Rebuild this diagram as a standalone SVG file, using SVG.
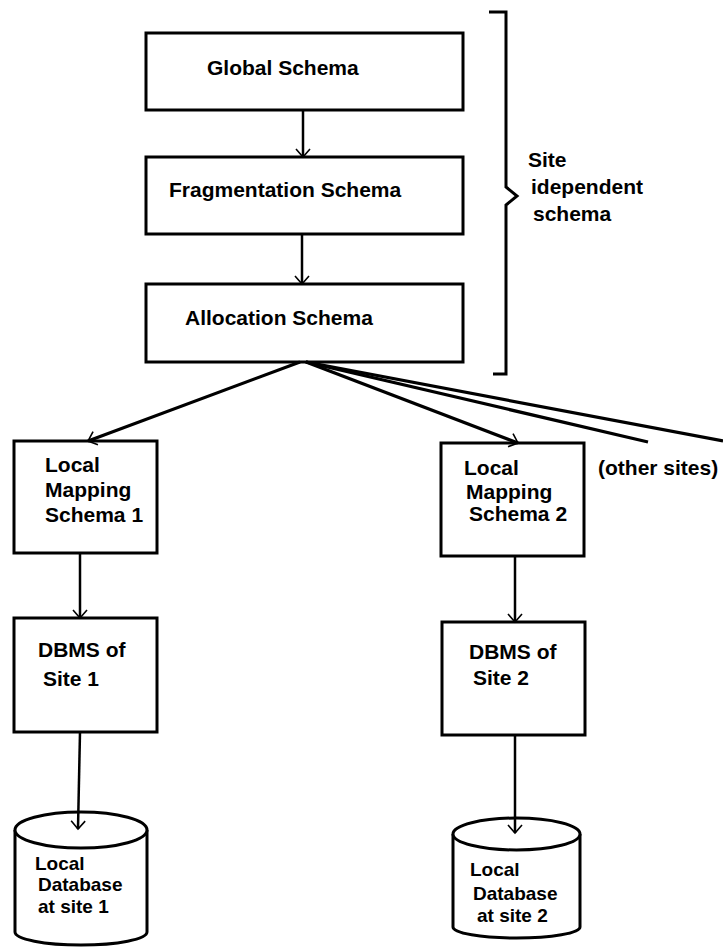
<svg xmlns="http://www.w3.org/2000/svg" width="723" height="948" viewBox="0 0 723 948">
<style>
.box{fill:#fff;stroke:#000;stroke-width:3}
.t{font-family:"Liberation Sans",Arial,sans-serif;font-weight:bold;font-size:21px;fill:#000}
.s{font-size:19px}
.v{stroke:#000;stroke-width:2.5;fill:none}
.f{stroke:#000;stroke-width:3.2;fill:none}
</style>
<defs>
<marker id="ah" markerUnits="userSpaceOnUse" markerWidth="20" markerHeight="20" refX="0" refY="0" viewBox="-10 -10 20 20" orient="auto" overflow="visible">
<path d="M-8,-7 L0,0 L-8,7" fill="none" stroke="#000" stroke-width="1.6"/>
</marker>
</defs>
<rect width="723" height="948" fill="#fff"/>
<g id="global">
<rect class="box" x="146" y="33" width="317" height="77"/>
<text class="t" x="207" y="75">Global Schema</text>
</g>
<g id="fragmentation">
<rect class="box" x="146" y="157" width="317" height="77"/>
<text class="t" x="169" y="197">Fragmentation Schema</text>
</g>
<g id="allocation">
<rect class="box" x="146" y="284" width="317" height="78"/>
<text class="t" x="185" y="325">Allocation Schema</text>
</g>
<g id="bracket">
<path d="M489,12 L506,12 L506,187 L517,196 L506,205 L506,374 L493,374" fill="none" stroke="#000" stroke-width="3"/>
<text class="t" x="528" y="167">Site</text>
<text class="t" x="531" y="194">idependent</text>
<text class="t" x="533" y="221">schema</text>
</g>
<g id="lms1">
<rect class="box" x="14" y="441" width="143" height="112"/>
<text class="t" x="45" y="472">Local</text>
<text class="t" x="45" y="497">Mapping</text>
<text class="t" x="45" y="522">Schema 1</text>
</g>
<g id="lms2">
<rect class="box" x="441" y="443" width="143" height="113"/>
<text class="t" x="464" y="475">Local</text>
<text class="t" x="466" y="499">Mapping</text>
<text class="t" x="469" y="521">Schema 2</text>
</g>
<g id="other">
<text class="t" x="598" y="475">(other sites)</text>
</g>
<g id="dbms1">
<rect class="box" x="14" y="618" width="143" height="114"/>
<text class="t" x="38" y="657">DBMS of</text>
<text class="t" x="43" y="686">Site 1</text>
</g>
<g id="dbms2">
<rect class="box" x="442" y="622" width="143" height="113"/>
<text class="t" x="469" y="659">DBMS of</text>
<text class="t" x="473" y="685">Site 2</text>
</g>
<g id="db1">
<path d="M15,830 L15,932 A66,13 0 0 0 147,932 L147,830" fill="#fff" stroke="#000" stroke-width="3"/>
<ellipse cx="81" cy="830" rx="66" ry="18" fill="#fff" stroke="#000" stroke-width="3"/>
<text class="t s" x="35" y="870">Local</text>
<text class="t s" x="38" y="891">Database</text>
<text class="t s" x="38" y="913">at site 1</text>
</g>
<g id="db2">
<path d="M453,834 L453,927 A63.5,11 0 0 0 580,927 L580,834" fill="#fff" stroke="#000" stroke-width="3"/>
<ellipse cx="516.5" cy="834" rx="63.5" ry="16" fill="#fff" stroke="#000" stroke-width="3"/>
<text class="t s" x="470" y="876">Local</text>
<text class="t s" x="473" y="900">Database</text>
<text class="t s" x="477" y="922">at site 2</text>
</g>
<g id="connectors">
<line class="v" x1="303" y1="110" x2="303" y2="157" marker-end="url(#ah)"/>
<line class="v" x1="302" y1="234" x2="302" y2="284" marker-end="url(#ah)"/>
<line class="f" x1="300" y1="362" x2="88" y2="441" marker-end="url(#ah)"/>
<line class="f" x1="306" y1="362" x2="518" y2="443" marker-end="url(#ah)"/>
<line class="f" x1="306" y1="362" x2="648" y2="442"/>
<line class="f" x1="306" y1="362" x2="723" y2="441"/>
<line class="v" x1="80" y1="553" x2="80" y2="618" marker-end="url(#ah)"/>
<line class="v" x1="515" y1="556" x2="515" y2="622" marker-end="url(#ah)"/>
<line class="v" x1="80" y1="732" x2="78" y2="829" marker-end="url(#ah)"/>
<line class="v" x1="515" y1="735" x2="515" y2="833" marker-end="url(#ah)"/>
</g>
</svg>
